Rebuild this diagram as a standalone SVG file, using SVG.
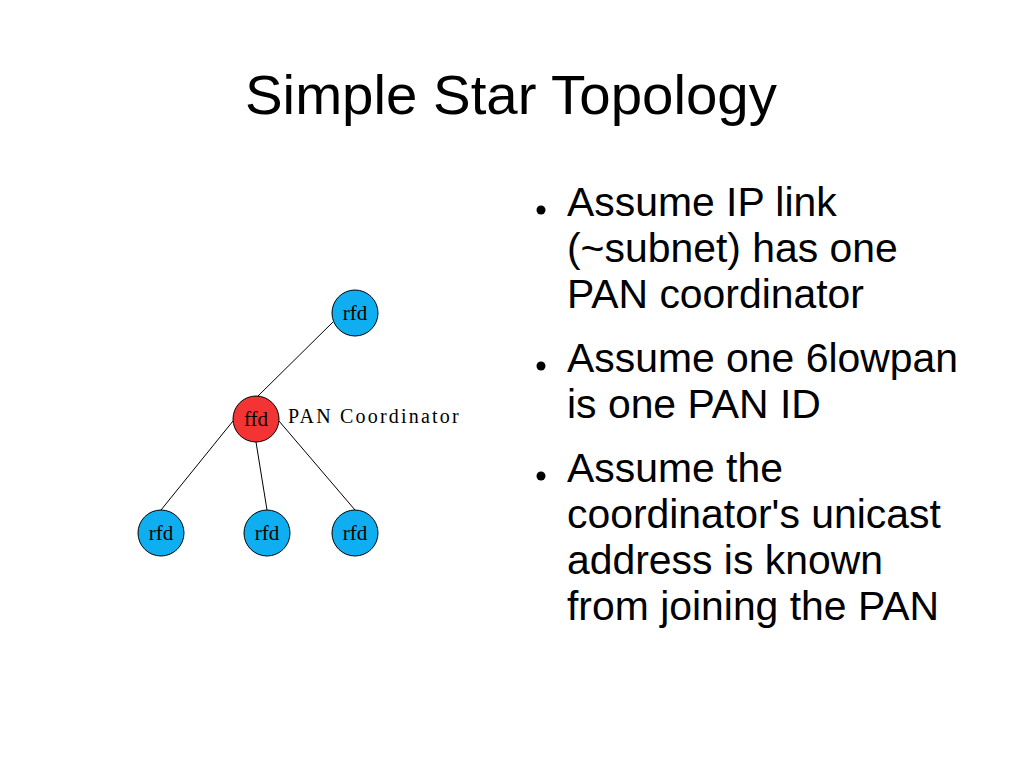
<svg xmlns="http://www.w3.org/2000/svg" width="1023" height="767" viewBox="0 0 1023 767">
<style>
.title{font-family:"Liberation Sans",Arial,sans-serif;font-size:56.4px;fill:#000}
.body{font-family:"Liberation Sans",Arial,sans-serif;font-size:40.9px;fill:#000}
.rfd{fill:#0eaef0;stroke:#000;stroke-width:1}
.ffd{fill:#f23434;stroke:#000;stroke-width:1}
.lbl{font-family:"Liberation Serif","Times New Roman",serif;font-size:21px;fill:#000;text-anchor:middle}
.edge{stroke:#000;stroke-width:1;fill:none}
</style>
<rect width="1023" height="767" fill="#fff"/>
<text class="title" x="245" y="114">Simple Star Topology</text>
<g id="connectors">
<line class="edge" x1="257" y1="397" x2="333" y2="322"/>
<line class="edge" x1="233" y1="421" x2="161" y2="510"/>
<line class="edge" x1="256" y1="442" x2="267" y2="510"/>
<line class="edge" x1="279" y1="421" x2="355" y2="510"/>
</g>
<g id="node-ffd">
<circle class="ffd" cx="256" cy="419" r="23"/>
<text class="lbl" x="256" y="426">ffd</text>
</g>
<text x="288" y="423" style="font-family:'Liberation Serif','Times New Roman',serif;font-size:20px;letter-spacing:2.2px">PAN Coordinator</text>
<g id="node-rfd-top">
<circle class="rfd" cx="355" cy="313" r="23"/>
<text class="lbl" x="355" y="320">rfd</text>
</g>
<g id="node-rfd-left">
<circle class="rfd" cx="161" cy="533" r="23"/>
<text class="lbl" x="161" y="540">rfd</text>
</g>
<g id="node-rfd-mid">
<circle class="rfd" cx="267" cy="533" r="23"/>
<text class="lbl" x="267" y="540">rfd</text>
</g>
<g id="node-rfd-right">
<circle class="rfd" cx="355" cy="533" r="23"/>
<text class="lbl" x="355" y="540">rfd</text>
</g>
<g id="bullets">
<circle cx="541" cy="210" r="4.5" fill="#000"/>
<circle cx="541" cy="366" r="4.5" fill="#000"/>
<circle cx="541" cy="476" r="4.5" fill="#000"/>
<text class="body" x="567" y="216">Assume IP link</text>
<text class="body" x="567" y="262">(~subnet) has one</text>
<text class="body" x="567" y="308">PAN coordinator</text>
<text class="body" x="567" y="372">Assume one 6lowpan</text>
<text class="body" x="567" y="418">is one PAN ID</text>
<text class="body" x="567" y="482">Assume the</text>
<text class="body" x="567" y="528">coordinator's unicast</text>
<text class="body" x="567" y="574">address is known</text>
<text class="body" x="567" y="620">from joining the PAN</text>
</g>
</svg>
